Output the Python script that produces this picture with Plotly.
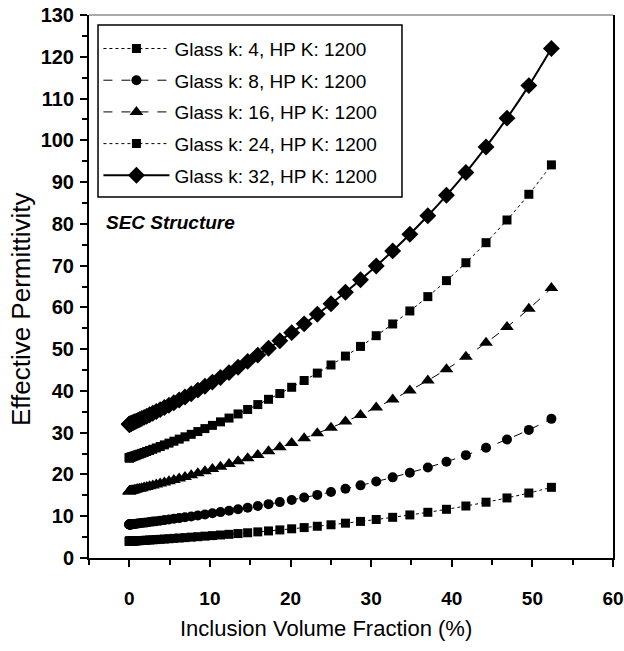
import plotly.graph_objects as go

# Inclusion volume fraction (%) shared by all series
x_frac = [0.00, 0.00, 0.00, 0.01, 0.02, 0.04, 0.07, 0.11, 0.16, 0.23, 0.31,
          0.42, 0.54, 0.69, 0.86, 1.06, 1.29, 1.55, 1.84, 2.16, 2.52,
          2.91, 3.35, 3.83, 4.35, 4.92, 5.53, 6.19, 6.91, 7.68, 8.50,
          9.38, 10.31, 11.31, 12.37, 13.49, 14.68, 15.94, 17.27, 18.67, 20.14,
          21.69, 23.32, 25.02, 26.81, 28.68, 30.63, 32.67, 34.80, 37.03, 39.34,
          41.75, 44.25, 46.85, 49.56, 52.36]

eps_k4 = [4.00, 4.00, 4.00, 4.00, 4.00, 4.00, 4.01, 4.01, 4.02, 4.03, 4.04,
          4.05, 4.07, 4.08, 4.10, 4.13, 4.16, 4.19, 4.22, 4.26, 4.31,
          4.36, 4.41, 4.47, 4.54, 4.61, 4.70, 4.78, 4.88, 4.99, 5.10,
          5.23, 5.36, 5.51, 5.67, 5.85, 6.04, 6.25, 6.48, 6.72, 6.99,
          7.28, 7.60, 7.95, 8.34, 8.76, 9.22, 9.74, 10.31, 10.94, 11.66,
          12.45, 13.36, 14.38, 15.56, 16.92]

eps_k8 = [8.00, 8.00, 8.00, 8.00, 8.00, 8.01, 8.02, 8.03, 8.04, 8.05, 8.07,
          8.10, 8.13, 8.16, 8.21, 8.25, 8.31, 8.37, 8.44, 8.52, 8.61,
          8.71, 8.82, 8.94, 9.07, 9.22, 9.38, 9.55, 9.74, 9.95, 10.18,
          10.43, 10.70, 10.99, 11.31, 11.66, 12.04, 12.45, 12.89, 13.38, 13.90,
          14.48, 15.11, 15.80, 16.56, 17.39, 18.30, 19.31, 20.43, 21.67, 23.06,
          24.62, 26.39, 28.39, 30.67, 33.31]

eps_k16 = [16.00, 16.00, 16.00, 16.00, 16.01, 16.02, 16.03, 16.05, 16.07, 16.11, 16.15,
           16.19, 16.25, 16.32, 16.40, 16.50, 16.60, 16.72, 16.86, 17.02, 17.19,
           17.38, 17.60, 17.83, 18.10, 18.38, 18.70, 19.04, 19.41, 19.82, 20.27,
           20.75, 21.28, 21.85, 22.48, 23.15, 23.89, 24.68, 25.55, 26.49, 27.52,
           28.64, 29.86, 31.20, 32.66, 34.26, 36.03, 37.97, 40.12, 42.51, 45.18,
           48.16, 51.52, 55.32, 59.65, 64.62]

eps_k24 = [24.00, 24.00, 24.00, 24.01, 24.01, 24.03, 24.05, 24.07, 24.11, 24.16, 24.21,
           24.29, 24.37, 24.47, 24.59, 24.73, 24.89, 25.06, 25.27, 25.50, 25.75,
           26.03, 26.35, 26.69, 27.08, 27.50, 27.96, 28.46, 29.01, 29.61, 30.27,
           30.98, 31.75, 32.59, 33.50, 34.49, 35.56, 36.73, 37.99, 39.37, 40.87,
           42.50, 44.27, 46.21, 48.34, 50.66, 53.22, 56.03, 59.14, 62.58, 66.41,
           70.69, 75.49, 80.92, 87.08, 94.12]

eps_k32 = [32.00, 32.00, 32.00, 32.01, 32.02, 32.03, 32.06, 32.10, 32.14, 32.20, 32.28,
           32.37, 32.49, 32.62, 32.77, 32.95, 33.16, 33.39, 33.66, 33.95, 34.29,
           34.66, 35.07, 35.52, 36.02, 36.57, 37.17, 37.83, 38.55, 39.33, 40.18,
           41.11, 42.11, 43.20, 44.39, 45.67, 47.07, 48.58, 50.23, 52.02, 53.95,
           56.06, 58.36, 60.87, 63.61, 66.61, 69.90, 73.52, 77.51, 81.93, 86.83,
           92.29, 98.41, 105.30, 113.10, 121.99]

series_names = ["Glass k: 4, HP K: 1200", "Glass k: 8, HP K: 1200",
                "Glass k: 16, HP K: 1200", "Glass k: 24, HP K: 1200",
                "Glass k: 32, HP K: 1200"]
series_values = [eps_k4, eps_k8, eps_k16, eps_k24, eps_k32]
series_symbols = ["square", "circle", "triangle-up", "square", "diamond"]
series_sizes = [9, 10, 12, 9, 13]
series_dash = ["dot", "dash", "dash", "dot", "solid"]
series_width = [1, 1, 1, 1, 2]

x_ticks = [0, 10, 20, 30, 40, 50, 60]
y_ticks = list(range(0, 131, 10))

x_title = "Inclusion Volume Fraction (%)"
y_title = "Effective Permittivity"
note_text = "SEC Structure"

FONT = "Liberation Sans, Arial, sans-serif"

fig = go.Figure()
for i, (name, vals) in enumerate(zip(series_names, series_values)):
    fig.add_trace(go.Scatter(
        x=x_frac, y=vals, name=name, mode="lines+markers",
        legendgroup=f"g{i}",
        line=dict(color="black", width=series_width[i], dash=series_dash[i], shape="spline"),
        marker=dict(symbol=series_symbols[i], size=series_sizes[i], color="black"),
    ))

fig.add_annotation(x=-3.2, y=80.3, xref="x", yref="y", text=f"<b><i>{note_text}</i></b>",
                   showarrow=False, xanchor="left", yanchor="middle",
                   font=dict(family=FONT, size=19, color="black"))
# axis titles (placed as in the reference, slightly off-centre)
fig.add_annotation(x=0.452, y=-0.1295, xref="paper", yref="paper", text=x_title,
                   showarrow=False, xanchor="center", yanchor="middle",
                   font=dict(family=FONT, size=22, color="black"))
fig.add_annotation(x=-0.131, y=0.459, xref="paper", yref="paper", text=y_title,
                   textangle=-90, showarrow=False, xanchor="center", yanchor="middle",
                   font=dict(family=FONT, size=26, color="black"))

# legend frame
fig.add_shape(type="rect", xref="paper", yref="paper",
              x0=0.0172, x1=0.5973, y0=0.6648, y1=0.9816,
              line=dict(color="black", width=1.5), fillcolor="white", layer="above")

fig.update_layout(
    width=624, height=651,
    margin=dict(l=89, r=11, t=15, b=93),
    plot_bgcolor="white", paper_bgcolor="white",
    font=dict(family=FONT, color="black"),
    showlegend=True,
    legend=dict(x=0.018, y=0.973, xanchor="left", yanchor="top",
                borderwidth=0, bgcolor="rgba(0,0,0,0)",
                font=dict(family=FONT, size=19, color="black"),
                itemwidth=66,
                tracegroupgap=4, traceorder="grouped"),
    xaxis=dict(range=[-5, 60], tickvals=x_ticks, showgrid=False, zeroline=False,
               automargin=False, ticklabeloverflow="allow",
               showline=True, linecolor="black", linewidth=2, mirror=False,
               ticks="outside", ticklen=7, tickwidth=1.5, tickcolor="black",
               ticklabelstandoff=15,
               tickfont=dict(family=FONT, size=19, weight="bold"),
               minor=dict(dtick=5, tick0=0, ticks="outside", ticklen=5, tickwidth=1.5, tickcolor="black")),
    yaxis=dict(range=[0, 130], tickvals=y_ticks, showgrid=False, zeroline=False,
               automargin=False, ticklabeloverflow="allow",
               showline=True, linecolor="black", linewidth=2, mirror=True,
               ticks="outside", ticklen=7, tickwidth=1.5, tickcolor="black",
               ticklabelstandoff=2,
               tickfont=dict(family=FONT, size=20, weight="bold"),
               minor=dict(dtick=5, tick0=0, ticks="outside", ticklen=5, tickwidth=1.5, tickcolor="black")),
)
fig.add_shape(type="line", xref="paper", yref="paper", x0=0, x1=1, y0=1, y1=1,
              line=dict(color="#555555", width=1))

fig.write_html("out.html", config={"displayModeBar": False},
               post_script="document.body.style.margin='0';")
